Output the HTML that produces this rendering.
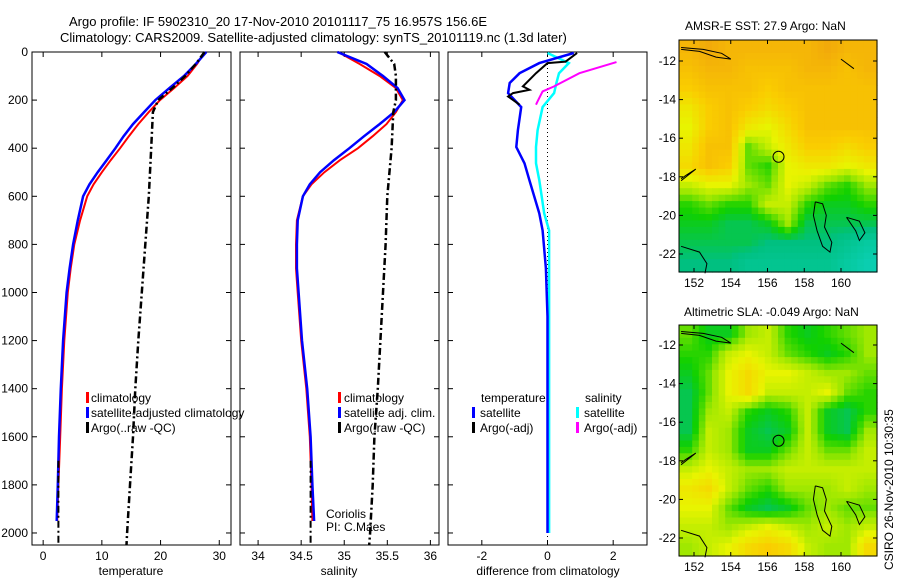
<!DOCTYPE html>
<html><head><meta charset="utf-8"><style>
html,body{margin:0;padding:0;background:#fff;}
svg{display:block;font-family:"Liberation Sans",sans-serif;}
text{font-size:12px;fill:#000;}
</style></head><body>
<svg id="fig" width="900" height="580" viewBox="0 0 900 580">
<text x="69" y="26" style="font-size:13px">Argo profile: IF 5902310_20 17-Nov-2010 20101117_75 16.957S 156.6E</text>
<text x="60" y="42" style="font-size:13px">Climatology: CARS2009. Satellite-adjusted climatology: synTS_20101119.nc (1.3d later)</text>
<text x="685" y="30">AMSR-E SST: 27.9 Argo: NaN</text>
<text x="684" y="316">Altimetric SLA: -0.049 Argo: NaN</text>
<text transform="translate(893,570) rotate(-90)">CSIRO 26-Nov-2010 10:30:35</text>
<text x="326" y="518">Coriolis</text>
<text x="326" y="531">PI: C.Maes</text>
</svg>
<script>
// ---------- data ----------
const depths = [0,50,100,150,200,250,300,350,400,450,500,550,600,700,800,900,1000,1200,1400,1600,1800,1950];
const tempClim = [27.5,26.2,24.6,22.3,19.9,18.0,16.2,14.6,13.1,11.5,10.0,8.6,7.5,6.3,5.3,4.7,4.2,3.6,3.2,2.9,2.6,2.4];
const tempSat  = [27.8,26.0,24.0,21.5,19.1,17.2,15.3,13.7,12.3,10.8,9.3,7.9,6.8,5.9,5.1,4.5,4.0,3.4,3.0,2.7,2.5,2.3];
const argoDepths = [0,50,100,150,200,250,400,600,800,1000,1200,1400,1600,1800,2000,2050];
const tempArgo = [27.5,26.0,24.2,22.0,19.6,18.7,18.4,18.0,17.4,16.8,16.2,15.7,15.3,14.8,14.3,14.2];
const salClim = [34.93,35.18,35.41,35.6,35.68,35.6,35.49,35.33,35.16,34.95,34.77,34.62,34.52,34.45,34.44,34.44,34.46,34.5,34.56,34.6,34.62,34.63];
const salSat  = [34.92,35.26,35.45,35.62,35.7,35.58,35.41,35.23,35.06,34.88,34.72,34.6,34.52,34.46,34.45,34.45,34.47,34.51,34.57,34.61,34.63,34.65];
const salArgo = [35.47,35.58,35.6,35.6,35.6,35.57,35.55,35.5,35.48,35.45,35.42,35.39,35.35,35.33,35.3,35.29];
const diffDepths = [4,46,88,129,171,229,325,395,463,533,671,742,900,1100,1400,1700,2000];
const diffTempSat = [0.8,-0.25,-0.85,-1.15,-1.2,-0.8,-0.9,-0.95,-0.7,-0.55,-0.25,-0.15,-0.05,0,0,0,0];
const diffSalSat = [0,0.65,0.35,0.27,0.2,-0.15,-0.3,-0.35,-0.35,-0.25,-0.1,0.05,0.05,0.05,0.05,0.05,0.05];
const diffArgoDepths = [4,40,46,88,143,157,171,185,219];
const diffTempArgo = [0.9,0.55,0,-0.35,-0.75,-0.55,-1.05,-1.2,-0.85];
const diffSalArgoDepths = [42,88,143,164,205,219];
const diffSalArgo = [2.1,0.97,0.2,-0.15,-0.3,-0.35];
const depthTicks = [0,200,400,600,800,1000,1200,1400,1600,1800,2000];
const tempTicks = [0,10,20,30];
const salTicks = [34,34.5,35,35.5,36];
const salTickLabels = ["34","34.5","35","35.5","36"];
const diffTicks = [-2,0,2];
const lonTicks = [152,154,156,158,160];
const latTicks = [-12,-14,-16,-18,-20,-22];
const sstGrid = [
[.85,.9,.85,.85,.85,.85,.85,.9,.85,.85],
[.8,.85,.85,.8,.8,.8,.85,.85,.8,.85],
[.75,.8,.8,.8,.75,.8,.8,.8,.8,.8],
[.65,.75,.8,.75,.7,.75,.8,.8,.8,.8],
[.6,.75,.8,.65,.6,.7,.8,.8,.8,.8],
[.65,.8,.8,.45,.55,.65,.75,.75,.7,.75],
[.7,.8,.75,.45,.4,.6,.65,.65,.6,.65],
[.55,.6,.6,.5,.45,.6,.55,.45,.4,.5],
[.4,.45,.4,.4,.55,.55,.4,.35,.35,.4],
[.35,.35,.3,.3,.35,.5,.3,.3,.3,.3],
[.3,.3,.3,.3,.25,.25,.25,.25,.2,.15],
[.25,.25,.25,.2,.2,.2,.2,.2,.15,.1]];
const slaGrid = [
[.45,.35,.35,.5,.55,.4,.35,.4,.45,.5],
[.4,.4,.55,.6,.55,.45,.4,.35,.4,.5],
[.35,.45,.6,.7,.6,.6,.55,.5,.5,.45],
[.3,.45,.6,.7,.55,.55,.55,.6,.45,.4],
[.3,.5,.55,.4,.35,.4,.55,.35,.3,.4],
[.3,.55,.5,.35,.3,.35,.55,.35,.3,.5],
[.4,.55,.5,.35,.35,.45,.55,.45,.45,.55],
[.55,.6,.55,.5,.5,.55,.55,.55,.55,.55],
[.65,.7,.55,.45,.4,.5,.5,.5,.55,.5],
[.6,.6,.45,.35,.3,.35,.45,.5,.45,.45],
[.55,.55,.5,.55,.6,.55,.5,.55,.5,.55],
[.5,.55,.6,.7,.75,.7,.55,.5,.5,.7]];

// ---------- helpers ----------
const NS="http://www.w3.org/2000/svg";
const svg=document.getElementById('fig');
function mk(tag,attrs,parent){const e=document.createElementNS(NS,tag);for(const k in attrs)e.setAttribute(k,attrs[k]);(parent||svg).appendChild(e);return e;}
const Y0=52,Y1=545;
const yD=d=>Y0+(d)*(Y1-Y0)/2050;
function panel(x0,x1,xmin,xmax,name){
  const sx=v=>x0+(v-xmin)*(x1-x0)/(xmax-xmin);
  const r=mk('rect',{x:x0,y:Y0,width:x1-x0,height:Y1-Y0,fill:'none',stroke:'#000','stroke-width':1});
  
  
  return sx;
}
function line(xs,ds,sx,color,w,dash,name){
  const pts=xs.map((v,i)=>sx(v).toFixed(1)+','+yD(ds[i]).toFixed(1)).join(' ');
  const p=mk('polyline',{points:pts,fill:'none',stroke:color,'stroke-width':w});
  if(dash)p.setAttribute('stroke-dasharray',dash);
  
  
}
function xTicks(sx,ticks,labels,name){
  ticks.forEach((t,i)=>{
    const x=sx(t);
    mk('line',{x1:x,y1:Y1,x2:x,y2:Y1-5,stroke:'#000'});
    mk('line',{x1:x,y1:Y0,x2:x,y2:Y0+5,stroke:'#000'});
    const tx=mk('text',{x:x,y:Y1+15,'text-anchor':'middle'});tx.textContent=labels[i];
    
    
  });
}
function yTicks(x0,x1,labels){
  depthTicks.forEach(d=>{
    const y=yD(d);
    mk('line',{x1:x0,y1:y,x2:x0+5,y2:y,stroke:'#000'});
    mk('line',{x1:x1,y1:y,x2:x1-5,y2:y,stroke:'#000'});
    if(labels){const t=mk('text',{x:x0-4,y:y+4,'text-anchor':'end'});t.textContent=d;
      
      }
  });
}
function label(x,y,s,name,anchor){const t=mk('text',{x:x,y:y,'text-anchor':anchor||'start'});t.textContent=s;
  
  }
function legMark(x,y,c){mk('rect',{x:x,y:y-10,width:3,height:11,fill:c});}

// ---------- temperature panel ----------
const sxT=panel(32,231,-1.9,32,'temperature-panel');
yTicks(32,231,true);
xTicks(sxT,tempTicks,tempTicks.map(String),'temperature-x');
line(tempClim,depths,sxT,'#f00',2,null,'temperature-climatology-line');
line(tempSat,depths,sxT,'#00f',2.5,null,'temperature-satellite-line');
line(tempArgo,argoDepths,sxT,'#000',2.5,'7,3,2,3','temperature-argo-raw-line');
line([2.6,2.6,2.6],[1700,1900,2050],sxT,'#000',2,'7,3,2,3','temperature-argo-adj-line');
label(131,575,'temperature','temperature-x-title','middle');
legMark(86,402,'#f00');label(91,402,'climatology','legend-climatology');
legMark(86,417,'#00f');label(91,417,'satellite-adjusted climatology','legend-satellite-adjusted');
legMark(86,432,'#000');label(91,432,'Argo(..raw -QC)','legend-argo-raw');

// ---------- salinity panel ----------
const sxS=panel(240,439,33.79,36.1,'salinity-panel');
yTicks(240,439,false);
xTicks(sxS,salTicks,salTickLabels,'salinity-x');
line(salClim,depths,sxS,'#f00',2,null,'salinity-climatology-line');
line(salSat,depths,sxS,'#00f',2.5,null,'salinity-satellite-line');
line(salArgo,argoDepths,sxS,'#000',2.5,'7,3,2,3','salinity-argo-raw-line');
line([34.61,34.61,34.61],[1700,1900,2050],sxS,'#000',2,'7,3,2,3','salinity-argo-adj-line');
label(339,575,'salinity','salinity-x-title','middle');
legMark(338,402,'#f00');label(344,402,'climatology','legend-sal-climatology');
legMark(338,417,'#00f');label(344,417,'satellite adj. clim.','legend-sal-satellite');
legMark(338,432,'#000');label(344,432,'Argo(.raw -QC)','legend-sal-argo');

// ---------- difference panel ----------
const sxD=panel(448,647,-3.03,3.03,'difference-panel');
yTicks(448,647,false);
xTicks(sxD,diffTicks,diffTicks.map(String),'difference-x');
line([0,0],[0,2050],sxD,'#000',1,'1,3','zero-reference-line');
line(diffSalSat,diffDepths,sxD,'#0ff',2.5,null,'salinity-satellite-diff-line');
line(diffTempSat,diffDepths,sxD,'#00f',2.5,null,'temperature-satellite-diff-line');
line(diffTempArgo,diffArgoDepths,sxD,'#000',2,null,'temperature-argo-diff-line');
line(diffSalArgo,diffSalArgoDepths,sxD,'#f0f',2,null,'salinity-argo-diff-line');
label(548,575,'difference from climatology','difference-x-title','middle');
label(481,402,'temperature','legend-diff-temperature-header');
label(585,402,'salinity','legend-diff-salinity-header');
legMark(472,417,'#00f');label(480,417,'satellite','legend-diff-temp-satellite');
legMark(576,417,'#0ff');label(584,417,'satellite','legend-diff-sal-satellite');
legMark(472,432,'#000');label(480,432,'Argo(-adj)','legend-diff-temp-argo');
legMark(576,432,'#f0f');label(584,432,'Argo(-adj)','legend-diff-sal-argo');

// ---------- maps ----------
const stops=[[0,[16,216,208]],[.25,[0,192,128]],[.38,[16,208,0]],[.5,[160,232,0]],[.6,[232,244,0]],[.75,[250,205,0]],[.9,[242,170,10]],[1,[215,120,0]]];
function cmap(v){for(let i=1;i<stops.length;i++){if(v<=stops[i][0]){const a=stops[i-1],b=stops[i],t=(v-a[0])/(b[0]-a[0]);
  return 'rgb('+a[1].map((c,k)=>Math.round(c+(b[1][k]-c)*t)).join(',')+')';}}return 'rgb(215,120,0)';}
function sample(grid,fr,fc){
  const R=grid.length-1,C=grid[0].length-1;
  fr=Math.max(0,Math.min(R,fr));fc=Math.max(0,Math.min(C,fc));
  const r0=Math.floor(fr),c0=Math.floor(fc),r1=Math.min(R,r0+1),c1=Math.min(C,c0+1),tr=fr-r0,tc=fc-c0;
  return (grid[r0][c0]*(1-tc)+grid[r0][c1]*tc)*(1-tr)+(grid[r1][c0]*(1-tc)+grid[r1][c1]*tc)*tr;
}
function map(grid,x0,y0,x1,y1,lat12y,lat22y,name){
  const rows=grid.length,cols=grid[0].length,S=3;
  const cw=(x1-x0)/(cols*S),ch=(y1-y0)/(rows*S);
  for(let r=0;r<rows*S;r++)for(let c=0;c<cols*S;c++){
    const v=sample(grid,(r+0.5)/S-0.5,(c+0.5)/S-0.5);
    const e=mk('rect',{x:(x0+c*cw).toFixed(1),y:(y0+r*ch).toFixed(1),width:(cw+0.6).toFixed(1),height:(ch+0.6).toFixed(1),fill:cmap(v)});
    
    
  }
  const lx=lon=>694+(lon-152)*(841-694)/8;
  const ly=lat=>lat12y+(lat+12)*(lat22y-lat12y)/(-10);
  const coasts=[[[151.3,-11.3],[152.5,-11.4],[153.5,-11.6],[154,-11.9],[153.2,-11.8],[152.3,-11.5],[151.3,-11.4]],
    [[158.6,-19.3],[159.0,-19.4],[159.2,-20.0],[159.1,-20.6],[159.5,-21.4],[159.4,-21.9],[159.0,-21.6],[158.7,-20.8],[158.5,-20.0],[158.6,-19.3]],
    [[160.3,-20.1],[161.0,-20.3],[161.3,-20.9],[161.0,-21.3],[160.8,-20.8],[160.3,-20.1]],
    [[151.3,-21.6],[152.3,-21.9],[152.7,-22.5],[152.6,-23]],
    [[151.3,-18.2],[152.1,-17.6],[151.6,-17.9],[151.3,-18.1]],
    [[160.0,-11.9],[160.7,-12.4]]];
  coasts.forEach(cs=>{const p=mk('polyline',{points:cs.map(q=>lx(q[0]).toFixed(1)+','+ly(q[1]).toFixed(1)).join(' '),fill:'none',stroke:'#000','stroke-width':1});
    
    });
  const c=mk('circle',{cx:lx(156.6),cy:ly(-16.96),r:5.5,fill:'none',stroke:'#000','stroke-width':1});
  
  
  const f=mk('rect',{x:x0,y:y0,width:x1-x0,height:y1-y0,fill:'none',stroke:'#000'});
  
  
  lonTicks.forEach(l=>{const x=lx(l);mk('line',{x1:x,y1:y1,x2:x,y2:y1-4,stroke:'#000'});mk('line',{x1:x,y1:y0,x2:x,y2:y0+4,stroke:'#000'});
    label(x,y1+15,String(l),name+'-lon-label','middle');});
  latTicks.forEach(l=>{const y=ly(l);mk('line',{x1:x0,y1:y,x2:x0+4,y2:y,stroke:'#000'});mk('line',{x1:x1,y1:y,x2:x1-4,y2:y,stroke:'#000'});
    label(x0-3,y+4,String(l),name+'-lat-label','end');});
}
map(sstGrid,679,40,877,272,61,254,'sst-map');
map(slaGrid,679,325,877,556,345,538,'sla-map');
</script>
</body></html>
